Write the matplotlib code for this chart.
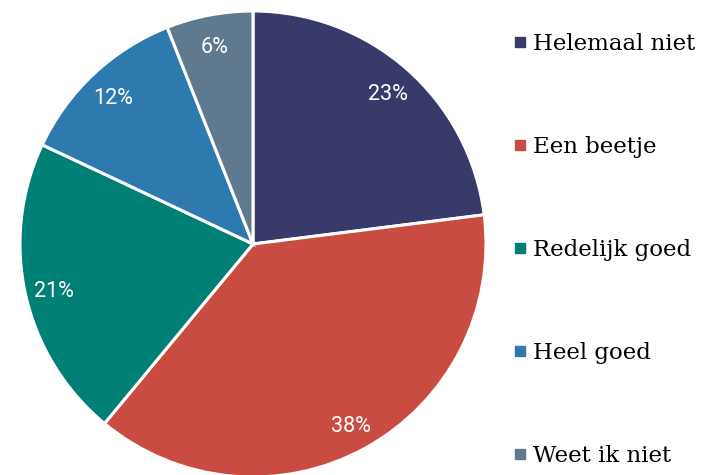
import matplotlib.pyplot as plt
from matplotlib.lines import Line2D

# answer categories and share of respondents (%)
labels = ["Helemaal niet", "Een beetje", "Redelijk goed", "Heel goed", "Weet ik niet"]
shares = [23, 38, 21, 12, 6]
colors = ["#383b69", "#c94c43", "#008075", "#2e79ad", "#5f7a8f"]

W, H = 702, 475
fig = plt.figure(figsize=(W / 100, H / 100), dpi=100)
# axes in pixel units so the pie can be placed like the original
ax = fig.add_axes([0, 0, 1, 1])

wedges, texts, autotexts = ax.pie(
    shares,
    colors=colors,
    startangle=90,
    counterclock=False,
    center=(253, H - 244),
    radius=233,
    autopct="%d%%",
    pctdistance=0.875,
    wedgeprops=dict(edgecolor="white", linewidth=2.2),
    textprops=dict(color="white", fontsize=15.5, family=["Roboto", "DejaVu Sans"]),
)
# centre the digits themselves rather than the text box (which includes descent)
for t in autotexts:
    x, y = t.get_position()
    t.set_position((x, y - 3.5))

ax.set_xlim(0, W)
ax.set_ylim(0, H)
ax.set_aspect("auto")
ax.axis("off")

# legend with small square markers, one per row
handles = [Line2D([], [], marker="s", linestyle="none", markersize=7.4,
                  markerfacecolor=c, markeredgecolor=c) for c in colors]
fig.legend(handles, labels, loc="upper left",
           bbox_to_anchor=(514.8 / W, 1 - 33 / H),
           frameon=False, borderpad=0, borderaxespad=0,
           handlelength=0.45, handletextpad=0.35, labelspacing=3.54,
           prop=dict(family="DejaVu Serif", size=16.5))

fig.savefig("out.png", dpi=100)
